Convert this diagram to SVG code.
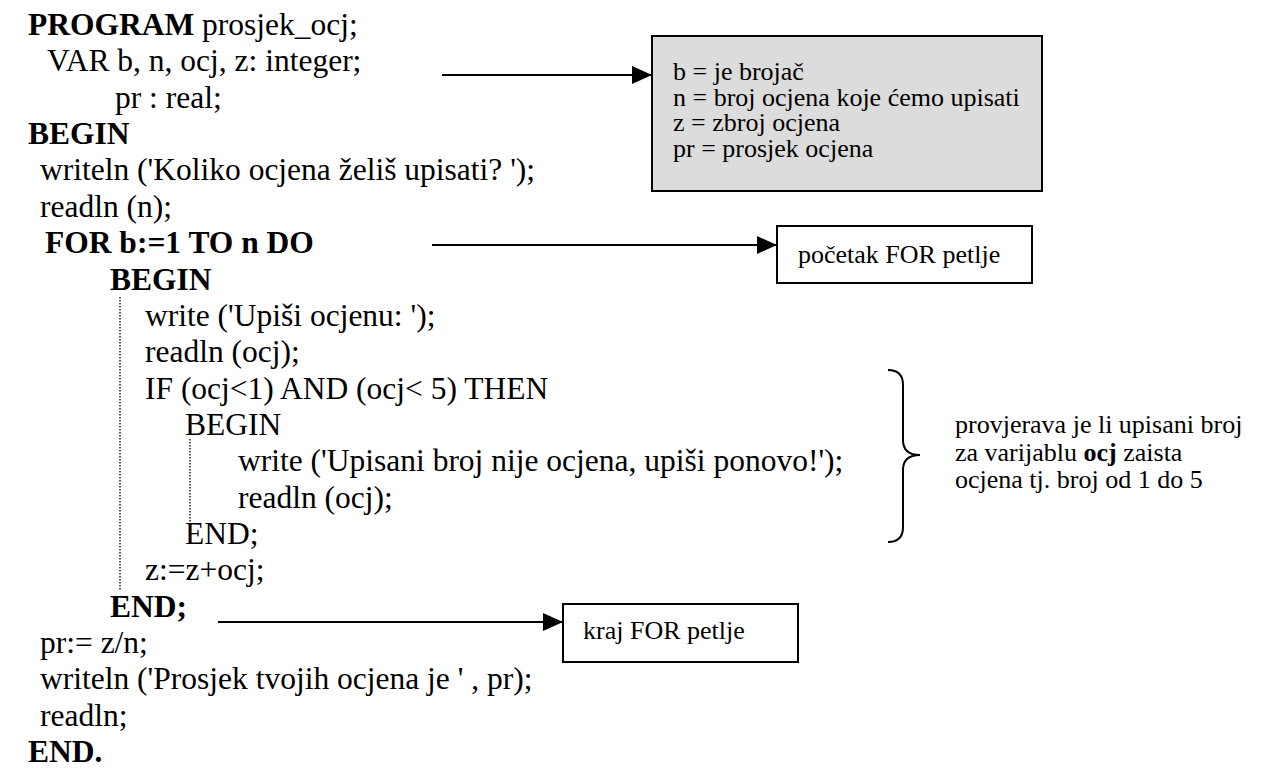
<svg xmlns="http://www.w3.org/2000/svg" width="1268" height="775" viewBox="0 0 1268 775">
<style>
.code{font-family:'Liberation Serif','DejaVu Serif',serif;font-size:31.5px;fill:#000}
.b{font-weight:bold}
.note{font-family:'Liberation Serif','DejaVu Serif',serif;font-size:26px;fill:#000}
.box{fill:#fff;stroke:#000;stroke-width:2}
.gbox{fill:#dcdcdc;stroke:#000;stroke-width:2}
.conn{stroke:#000;stroke-width:2;fill:none}
.dot{stroke:#222;stroke-width:1.5;stroke-dasharray:1.5 1.5;fill:none}
</style>
<defs>
<marker id="ah" markerUnits="userSpaceOnUse" markerWidth="20" markerHeight="18" refX="20" refY="9" orient="auto">
<path d="M0,0 L20,9 L0,18 Z" fill="#000"/>
</marker>
</defs>
<rect width="1268" height="775" fill="#fff"/>
<g id="code" font-family="Liberation Serif, serif">
<text class="code" x="28" y="35"><tspan class="b">PROGRAM</tspan> prosjek_ocj;</text>
<text class="code" x="47" y="71.4">VAR b, n, ocj, z: integer;</text>
<text class="code" x="115" y="107.7">pr : real;</text>
<text class="code b" x="28" y="144">BEGIN</text>
<text class="code" x="40" y="180.4">writeln ('Koliko ocjena želiš upisati? ');</text>
<text class="code" x="40" y="216.8">readln (n);</text>
<text class="code b" x="45" y="253.1">FOR b:=1 TO n DO</text>
<text class="code b" x="110" y="289.5">BEGIN</text>
<text class="code" x="145" y="325.8">write ('Upiši ocjenu: ');</text>
<text class="code" x="145" y="362.2">readln (ocj);</text>
<text class="code" x="145" y="398.5">IF (ocj&lt;1) AND (ocj&lt; 5) THEN</text>
<text class="code" x="185" y="434.9">BEGIN</text>
<text class="code" x="238" y="471.2">write ('Upisani broj nije ocjena, upiši ponovo!');</text>
<text class="code" x="238" y="507.6">readln (ocj);</text>
<text class="code" x="185" y="543.9">END;</text>
<text class="code" x="145" y="580.3">z:=z+ocj;</text>
<text class="code b" x="110" y="616.6">END;</text>
<text class="code" x="40" y="653">pr:= z/n;</text>
<text class="code" x="40" y="689.3">writeln ('Prosjek tvojih ocjena je ' , pr);</text>
<text class="code" x="40" y="725.7">readln;</text>
<text class="code b" x="28" y="762">END.</text>
<line class="dot" x1="120" y1="297" x2="120" y2="590"/>
<line class="dot" x1="190" y1="439" x2="190" y2="523"/>
</g>
<g id="note-vars" font-family="Liberation Serif, serif">
<rect class="gbox" x="652" y="36" width="390" height="155"/>
<text class="note" x="673" y="80">b = je brojač</text>
<text class="note" x="673" y="105.5">n = broj ocjena koje ćemo upisati</text>
<text class="note" x="673" y="131">z = zbroj ocjena</text>
<text class="note" x="673" y="156.5">pr = prosjek ocjena</text>
</g>
<g id="note-for-start" font-family="Liberation Serif, serif">
<rect class="box" x="777" y="226" width="255" height="57"/>
<text class="note" x="798" y="263">početak FOR petlje</text>
</g>
<g id="note-for-end" font-family="Liberation Serif, serif">
<rect class="box" x="563" y="604" width="235" height="58"/>
<text class="note" x="583" y="639">kraj FOR petlje</text>
</g>
<g id="note-check" font-family="Liberation Serif, serif">
<path class="conn" d="M888,370 Q903,370 903,385 L903,440 Q903,455 920,455 Q903,455 903,470 L903,527 Q903,542 888,542"/>
<text class="note" x="955" y="433">provjerava je li upisani broj</text>
<text class="note" x="955" y="460.5">za varijablu <tspan class="b">ocj</tspan> zaista</text>
<text class="note" x="955" y="488">ocjena tj. broj od 1 do 5</text>
</g>
<g id="connectors">
<line class="conn" x1="442" y1="75" x2="652" y2="75" marker-end="url(#ah)"/>
<line class="conn" x1="432" y1="245" x2="777" y2="245" marker-end="url(#ah)"/>
<line class="conn" x1="218" y1="622" x2="563" y2="622" marker-end="url(#ah)"/>
</g>
</svg>
